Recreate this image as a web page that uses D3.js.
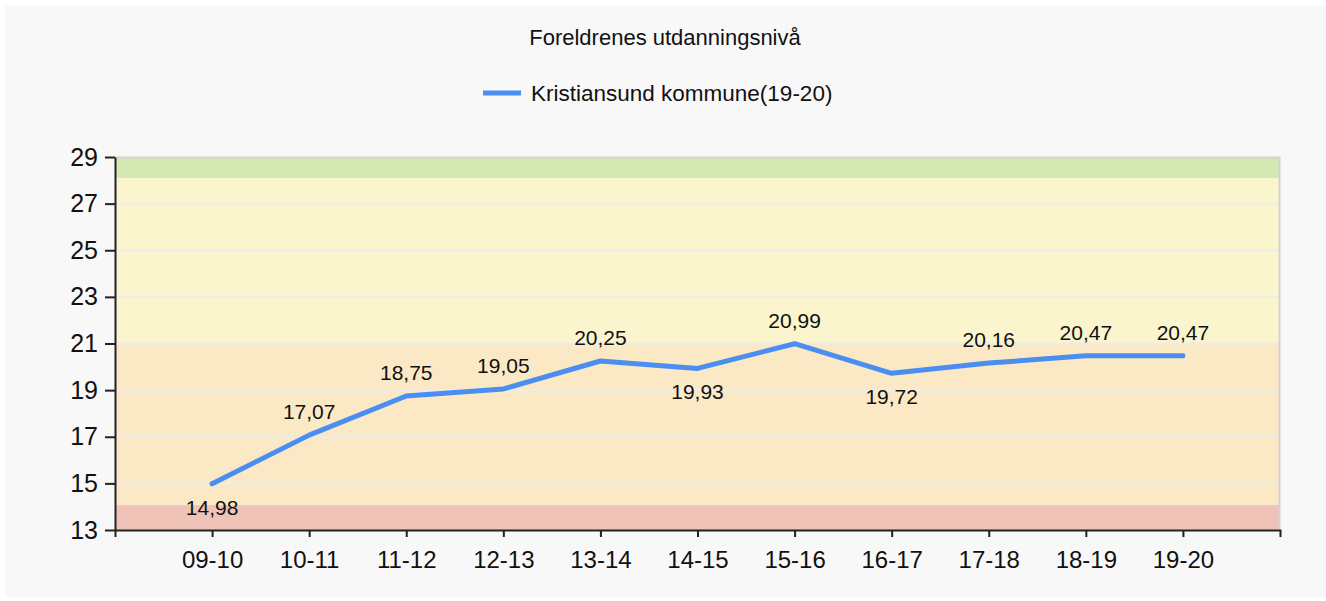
<!DOCTYPE html>
<html>
<head>
<meta charset="utf-8">
<script src="https://cdn.jsdelivr.net/npm/d3@7"></script>
<style>
  body { margin: 0; background: #ffffff; }
  text { font-family: "Liberation Sans", Arial, sans-serif; fill: #111; }
</style>
</head>
<body>
<div id="chart"></div>
<script>
var categories = ["09-10", "10-11", "11-12", "12-13", "13-14", "14-15", "15-16", "16-17", "17-18", "18-19", "19-20"];
var values = [14.98, 17.07, 18.75, 19.05, 20.25, 19.93, 20.99, 19.72, 20.16, 20.47, 20.47];
var yTicks = [13, 15, 17, 19, 21, 23, 25, 27, 29];
var bandEdges = [13, 14.07, 21, 28.1, 29];
var bandColors = ["#f0c3b9", "#fbe9c5", "#faf5cd", "#d4e8b1"];
var seriesName = "Kristiansund kommune(19-20)";
var title = "Foreldrenes utdanningsnivå";

(function () {
    var W = 1326, H = 601,
        plotLeft = 115, plotRight = 1280, plotTop = 157, plotBottom = 530;

    var svg = d3.select("#chart").append("svg").attr("width", W).attr("height", H);

    svg.append("rect").attr("x", 5).attr("y", 6).attr("width", W - 5).attr("height", 591).attr("fill", "#f8f8f8");

    var x = d3.scalePoint().domain(categories).range([plotLeft, plotRight]).padding(1);
    var y = d3.scaleLinear().domain([13, 29]).range([plotBottom, plotTop]);

    // background bands
    svg.append("g").selectAll("rect")
        .data(bandColors)
        .enter().append("rect")
        .attr("x", plotLeft)
        .attr("width", plotRight - plotLeft)
        .attr("y", function (d, i) { return y(bandEdges[i + 1]); })
        .attr("height", function (d, i) { return y(bandEdges[i]) - y(bandEdges[i + 1]); })
        .attr("fill", function (d) { return d; });

    // grid lines
    svg.append("g").selectAll("line")
        .data(yTicks.slice(1, -1))
        .enter().append("line")
        .attr("x1", plotLeft).attr("x2", plotRight)
        .attr("y1", function (d) { return y(d); })
        .attr("y2", function (d) { return y(d); })
        .attr("stroke", "#ececec")
        .attr("stroke-width", 2);

    // top and right border
    svg.append("path")
        .attr("d", "M" + plotLeft + "," + (plotTop + 0.5) + "H" + (plotRight - 0.5) + "V" + plotBottom)
        .attr("fill", "none").attr("stroke", "#d2d2d2").attr("stroke-width", 2);

    // y axis
    var yAxis = svg.append("g").attr("transform", "translate(" + plotLeft + ",0)")
        .call(d3.axisLeft(y).tickValues(yTicks).tickSize(10).tickSizeOuter(0).tickPadding(7).tickFormat(d3.format("d")));
    yAxis.selectAll("text").style("font-size", "25px").attr("fill", "#111");
    yAxis.selectAll("line, path").attr("stroke", "#222").attr("stroke-width", 2);

    // x axis
    var xAxis = svg.append("g").attr("transform", "translate(0," + plotBottom + ")")
        .call(d3.axisBottom(x).tickSize(7).tickSizeOuter(7).tickPadding(14));
    xAxis.selectAll("text").style("font-size", "24px").attr("fill", "#111");
    xAxis.selectAll("line, path").attr("stroke", "#222").attr("stroke-width", 2);

    // line
    var line = d3.line()
        .x(function (d, i) { return x(categories[i]); })
        .y(function (d) { return y(d); });

    svg.append("path")
        .datum(values)
        .attr("d", line)
        .attr("fill", "none")
        .attr("stroke", "#4a8ef2")
        .attr("stroke-width", 5)
        .attr("stroke-linejoin", "round")
        .attr("stroke-linecap", "round");

    // point labels: below for local minima, above otherwise
    function isLow(i) {
        var prev = i > 0 ? values[i - 1] : Infinity;
        var next = i < values.length - 1 ? values[i + 1] : Infinity;
        return values[i] < prev && values[i] < next;
    }

    svg.append("g").selectAll("text")
        .data(values)
        .enter().append("text")
        .attr("x", function (d, i) { return x(categories[i]); })
        .attr("y", function (d, i) { return y(d) + (isLow(i) ? 31 : -16); })
        .attr("text-anchor", "middle")
        .style("font-size", "21px")
        .text(function (d) { return d.toFixed(2).replace(".", ","); });

    // title
    svg.append("text")
        .attr("x", 665).attr("y", 45)
        .attr("text-anchor", "middle")
        .style("font-size", "22px")
        .text(title);

    // legend
    svg.append("line")
        .attr("x1", 483).attr("x2", 521)
        .attr("y1", 93).attr("y2", 93)
        .attr("stroke", "#4a8ef2").attr("stroke-width", 5);
    svg.append("text")
        .attr("x", 531).attr("y", 101)
        .style("font-size", "22.5px")
        .text(seriesName);
})();
</script>
</body>
</html>
